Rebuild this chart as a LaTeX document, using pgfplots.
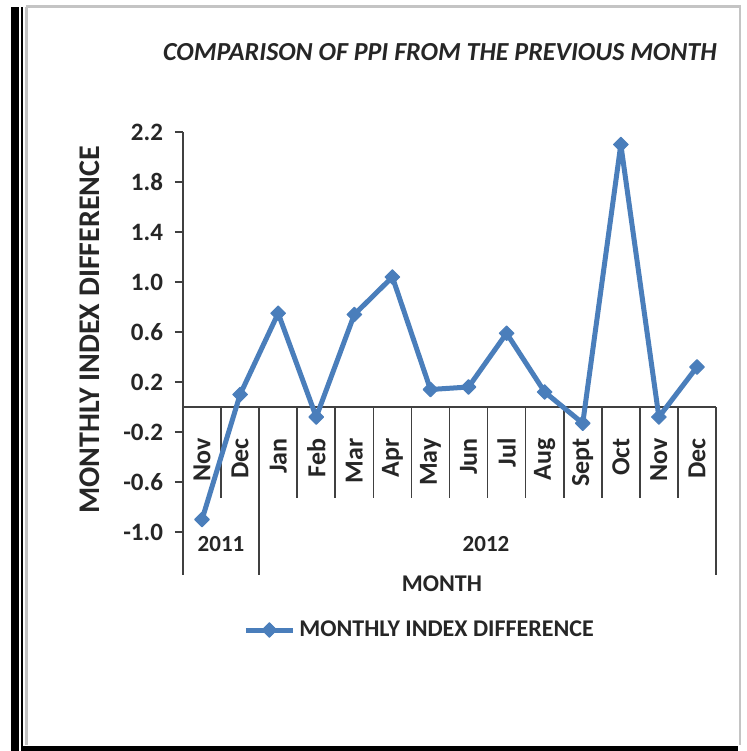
\documentclass[border=0pt]{standalone}
\usepackage{fontspec}
\setmainfont{Carlito}
\usepackage{pgfplots}
\pgfplotsset{compat=1.18}
\definecolor{serblue}{HTML}{4A7EBB}
\definecolor{framegray}{HTML}{C4C4C4}
\definecolor{axgray}{HTML}{404040}
\begin{document}
\begin{tikzpicture}
\begin{scope}[x=0.5pt,y=-0.5pt]
\path[fill=white] (0,0) rectangle (746,751);
\fill[black] (11,7) rectangle (18.7,751);
\fill[black] (20.7,7) rectangle (22.7,751);
\fill[black] (21,746) rectangle (738,751);
\draw[framegray, line width=1.2pt] (26,6.5) -- (740,6.5) -- (740,745);
\draw[framegray, line width=1.5pt] (26.5,6.5) -- (26.5,745);
\node[font=\fontsize{13}{15}\selectfont\bfseries\itshape, text=black!85] at (440,52) {COMPARISON OF PPI FROM THE PREVIOUS MONTH};
\node[font=\fontsize{15}{17}\selectfont\bfseries, rotate=90, text=black!85] at (90,330) {MONTHLY INDEX DIFFERENCE};
\node[font=\fontsize{11.5}{13}\selectfont\bfseries, text=black!85] at (221,544) {2011};
\node[font=\fontsize{11.5}{13}\selectfont\bfseries, text=black!85] at (486,544) {2012};
\node[font=\fontsize{12}{14}\selectfont\bfseries, text=black!85] at (442,584) {MONTH};
\end{scope}
\begin{axis}[
  at={(91.5pt,-266pt)}, anchor=south west,
  scale only axis, width=266.5pt, height=200pt,
  clip=false,
  xmin=-0.5, xmax=13.5, ymin=-1, ymax=2.2,
  axis x line=middle, axis y line=left,
  axis line style={-, line width=0.8pt, color=axgray},
  xtick={0,...,13},
  xticklabels={Nov,Dec,Jan,Feb,Mar,Apr,May,Jun,Jul,Aug,Sept,Oct,Nov,Dec},
  x tick style={draw=none},
  xticklabel style={rotate=90, anchor=east, inner sep=0pt, text=black!85, font=\fontsize{13}{15}\selectfont\bfseries},
  xticklabel shift=11.5pt,
  ytick={-1,-0.6,-0.2,0.2,0.6,1.0,1.4,1.8,2.2},
  yticklabels={-1.0,-0.6,-0.2,0.2,0.6,1.0,1.4,1.8,2.2},
  yticklabel style={text=black!85, xshift=-2.5pt, font=\fontsize{12.5}{15}\selectfont\bfseries},
  y tick style={line width=0.8pt, color=axgray},
  tick align=outside, major tick length=4pt,
  legend style={draw=none, fill=none, at={(0.1126,-0.245)}, anchor=west, inner sep=0pt,
    font=\fontsize{12}{14}\selectfont\bfseries, text=black!85},
  legend image code/.code={\draw[mark repeat=2,mark phase=2,#1] plot coordinates {(0pt,0pt) (11.75pt,0pt) (23.5pt,0pt)};},
]
\pgfplotsinvokeforeach{0.5,2.5,3.5,4.5,5.5,6.5,7.5,8.5,9.5,10.5,11.5,12.5}{
  \draw[axgray, line width=0.8pt] (axis cs:#1,0) -- (axis cs:#1,-0.728);
}
\pgfplotsinvokeforeach{-0.5,1.5,13.5}{
  \draw[axgray, line width=0.8pt] (axis cs:#1,0) -- (axis cs:#1,-1.344);
}
\addplot[serblue, line width=2.5pt, line join=round, mark=square*, mark size=2.6pt,
  mark options={solid, rotate=45, fill=serblue, line width=0.5pt}]
  coordinates {
  (0,-0.90) (1,0.10) (2,0.75) (3,-0.08) (4,0.74) (5,1.04) (6,0.14)
  (7,0.16) (8,0.59) (9,0.12) (10,-0.13) (11,2.10) (12,-0.08) (13,0.32)
  };
\addlegendentry{MONTHLY INDEX DIFFERENCE}
\end{axis}
\end{tikzpicture}
\end{document}
